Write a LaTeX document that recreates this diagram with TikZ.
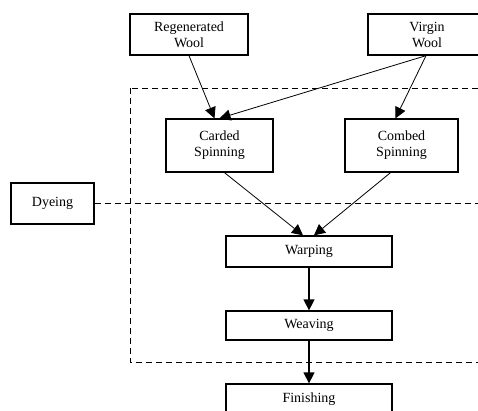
\documentclass[tikz,border=0pt]{standalone}
\usepackage{fontspec}
\setmainfont{Liberation Serif}
\usetikzlibrary{arrows.meta,calc}
\begin{document}
\begin{tikzpicture}[x=1pt,y=-1pt,
  box/.style={draw,line width=1.3pt,inner sep=0pt,align=center,font=\fontsize{14}{16}\selectfont},
  conn/.style={line width=0.8pt,-{Triangle[length=11pt,width=11pt]}},
  vconn/.style={line width=1.4pt,-{Triangle[length=11pt,width=11pt]}},
  dsh/.style={line width=1pt,dash pattern=on 6pt off 4pt}]
\useasboundingbox (0,0) rectangle (478,410);
\clip (0,0) rectangle (478,410);
\node[box,minimum width=118pt,minimum height=41pt] (reg) at (189,34.5) {Regenerated\\Wool};
\node[box,minimum width=118pt,minimum height=41pt] (vir) at (427,34.5) {Virgin\\Wool};
\node[box,minimum width=107pt,minimum height=53pt] (card) at (219.5,145.5) {Carded\\Spinning};
\node[box,minimum width=113pt,minimum height=53pt] (comb) at (401.5,145.5) {Combed\\Spinning};
\node[box,minimum width=83pt,minimum height=41pt] (dye) at (52.5,203.5) {Dyeing};
\node[box,minimum width=166pt,minimum height=31pt] (warp) at (309,251.5) {Warping};
\node[box,minimum width=166pt,minimum height=29pt] (weav) at (309,325.5) {Weaving};
\node[box,minimum width=166pt,minimum height=30pt] (fin) at (309,399) {Finishing};
\coordinate (dsA) at (130,88);
\coordinate (dsB) at (500,362);
\draw[dsh] (dsA) rectangle (dsB);
\coordinate (dyeEnd) at (500,203.5);
\draw[dsh] (dye.east) -- (dyeEnd);
\draw[conn] (reg.south) -- ($(card.north)+(-5,0)$);
\draw[conn] ($(vir.south)+(-1,0)$) -- ($(card.north)+(0,0)$);
\draw[conn] ($(vir.south)+(-1,0)$) -- ($(comb.north)+(-6,0)$);
\draw[conn] ($(card.south)+(5,0)$) -- ($(warp.north)+(-6,0)$);
\draw[conn] ($(comb.south)+(-11,0)$) -- ($(warp.north)+(5,0)$);
\draw[vconn] (warp.south) -- (weav.north);
\draw[vconn] (weav.south) -- (fin.north);
\end{tikzpicture}
\end{document}
